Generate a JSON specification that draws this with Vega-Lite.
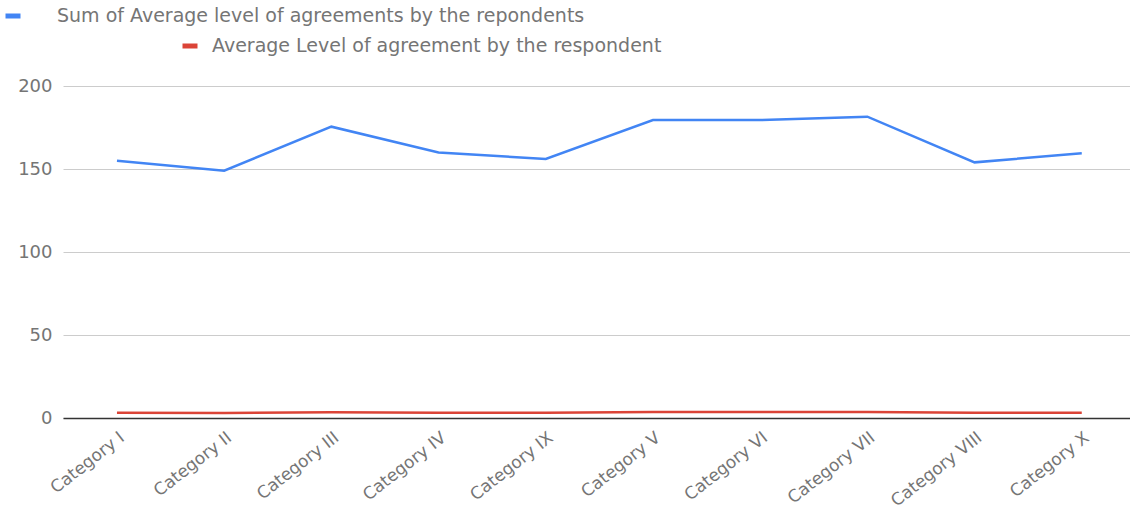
{
  "$schema": "https://vega.github.io/schema/vega-lite/v6.json",
  "width": 1067,
  "height": 332,
  "autosize": {"type": "none"},
  "padding": {"left": 63, "top": 86, "right": 0, "bottom": 94},
  "background": "white",
  "config": {"view": {"stroke": null}, "font": "DejaVu Sans"},
  "data": {
    "values": [
      {"category": "Category I", "series": "Sum of Average level of agreements by the repondents", "value": 155},
      {"category": "Category II", "series": "Sum of Average level of agreements by the repondents", "value": 149},
      {"category": "Category III", "series": "Sum of Average level of agreements by the repondents", "value": 175.5},
      {"category": "Category IV", "series": "Sum of Average level of agreements by the repondents", "value": 160},
      {"category": "Category IX", "series": "Sum of Average level of agreements by the repondents", "value": 156},
      {"category": "Category V", "series": "Sum of Average level of agreements by the repondents", "value": 179.5},
      {"category": "Category VI", "series": "Sum of Average level of agreements by the repondents", "value": 179.5},
      {"category": "Category VII", "series": "Sum of Average level of agreements by the repondents", "value": 181.5},
      {"category": "Category VIII", "series": "Sum of Average level of agreements by the repondents", "value": 154},
      {"category": "Category X", "series": "Sum of Average level of agreements by the repondents", "value": 159.5},
      {"category": "Category I", "series": "Average Level of agreement by the respondent", "value": 3.1},
      {"category": "Category II", "series": "Average Level of agreement by the respondent", "value": 3.0},
      {"category": "Category III", "series": "Average Level of agreement by the respondent", "value": 3.5},
      {"category": "Category IV", "series": "Average Level of agreement by the respondent", "value": 3.2},
      {"category": "Category IX", "series": "Average Level of agreement by the respondent", "value": 3.1},
      {"category": "Category V", "series": "Average Level of agreement by the respondent", "value": 3.6},
      {"category": "Category VI", "series": "Average Level of agreement by the respondent", "value": 3.6},
      {"category": "Category VII", "series": "Average Level of agreement by the respondent", "value": 3.6},
      {"category": "Category VIII", "series": "Average Level of agreement by the respondent", "value": 3.1},
      {"category": "Category X", "series": "Average Level of agreement by the respondent", "value": 3.2}
    ]
  },
  "layer": [
    {
      "transform": [{"filter": "datum.series === 'Sum of Average level of agreements by the repondents'"}],
      "mark": {"type": "line", "strokeWidth": 2.5},
      "encoding": {
        "x": {
          "field": "category", "type": "ordinal", "sort": null,
          "scale": {"type": "point", "padding": 0.4767, "align": 0.528},
          "axis": {"title": null, "labelAngle": -38, "labelFontSize": 17, "labelColor": "#757575",
                   "ticks": false, "domain": true, "domainColor": "#333333", "domainWidth": 1.5,
                   "grid": false, "labelPadding": 11}
        },
        "y": {
          "field": "value", "type": "quantitative",
          "scale": {"domain": [0, 200]},
          "axis": {"title": null, "values": [0, 50, 100, 150, 200], "domain": false, "ticks": false,
                   "labelPadding": 11, "labelFontSize": 18, "labelColor": "#757575", "gridColor": "#cccccc"}
        },
        "color": {
          "field": "series", "type": "nominal",
          "scale": {"domain": ["Sum of Average level of agreements by the repondents"], "range": ["#4285F4"]},
          "legend": {"orient": "none", "legendX": -60, "legendY": -80, "title": null, "padding": 0,
                     "symbolType": "stroke", "symbolSize": 225, "symbolStrokeWidth": 5,
                     "labelFontSize": 19, "labelColor": "#757575", "labelOffset": 34, "labelLimit": 1000}
        }
      }
    },
    {
      "transform": [{"filter": "datum.series === 'Average Level of agreement by the respondent'"}],
      "mark": {"type": "line", "strokeWidth": 2.5},
      "encoding": {
        "x": {"field": "category", "type": "ordinal", "sort": null},
        "y": {"field": "value", "type": "quantitative"},
        "stroke": {
          "field": "series", "type": "nominal",
          "scale": {"domain": ["Average Level of agreement by the respondent"], "range": ["#DB4437"]},
          "legend": {"orient": "none", "legendX": 117, "legendY": -50, "title": null, "padding": 0,
                     "symbolType": "stroke", "symbolSize": 225, "symbolStrokeWidth": 5,
                     "labelFontSize": 19, "labelColor": "#757575", "labelOffset": 12, "labelLimit": 1000}
        }
      }
    }
  ]
}
